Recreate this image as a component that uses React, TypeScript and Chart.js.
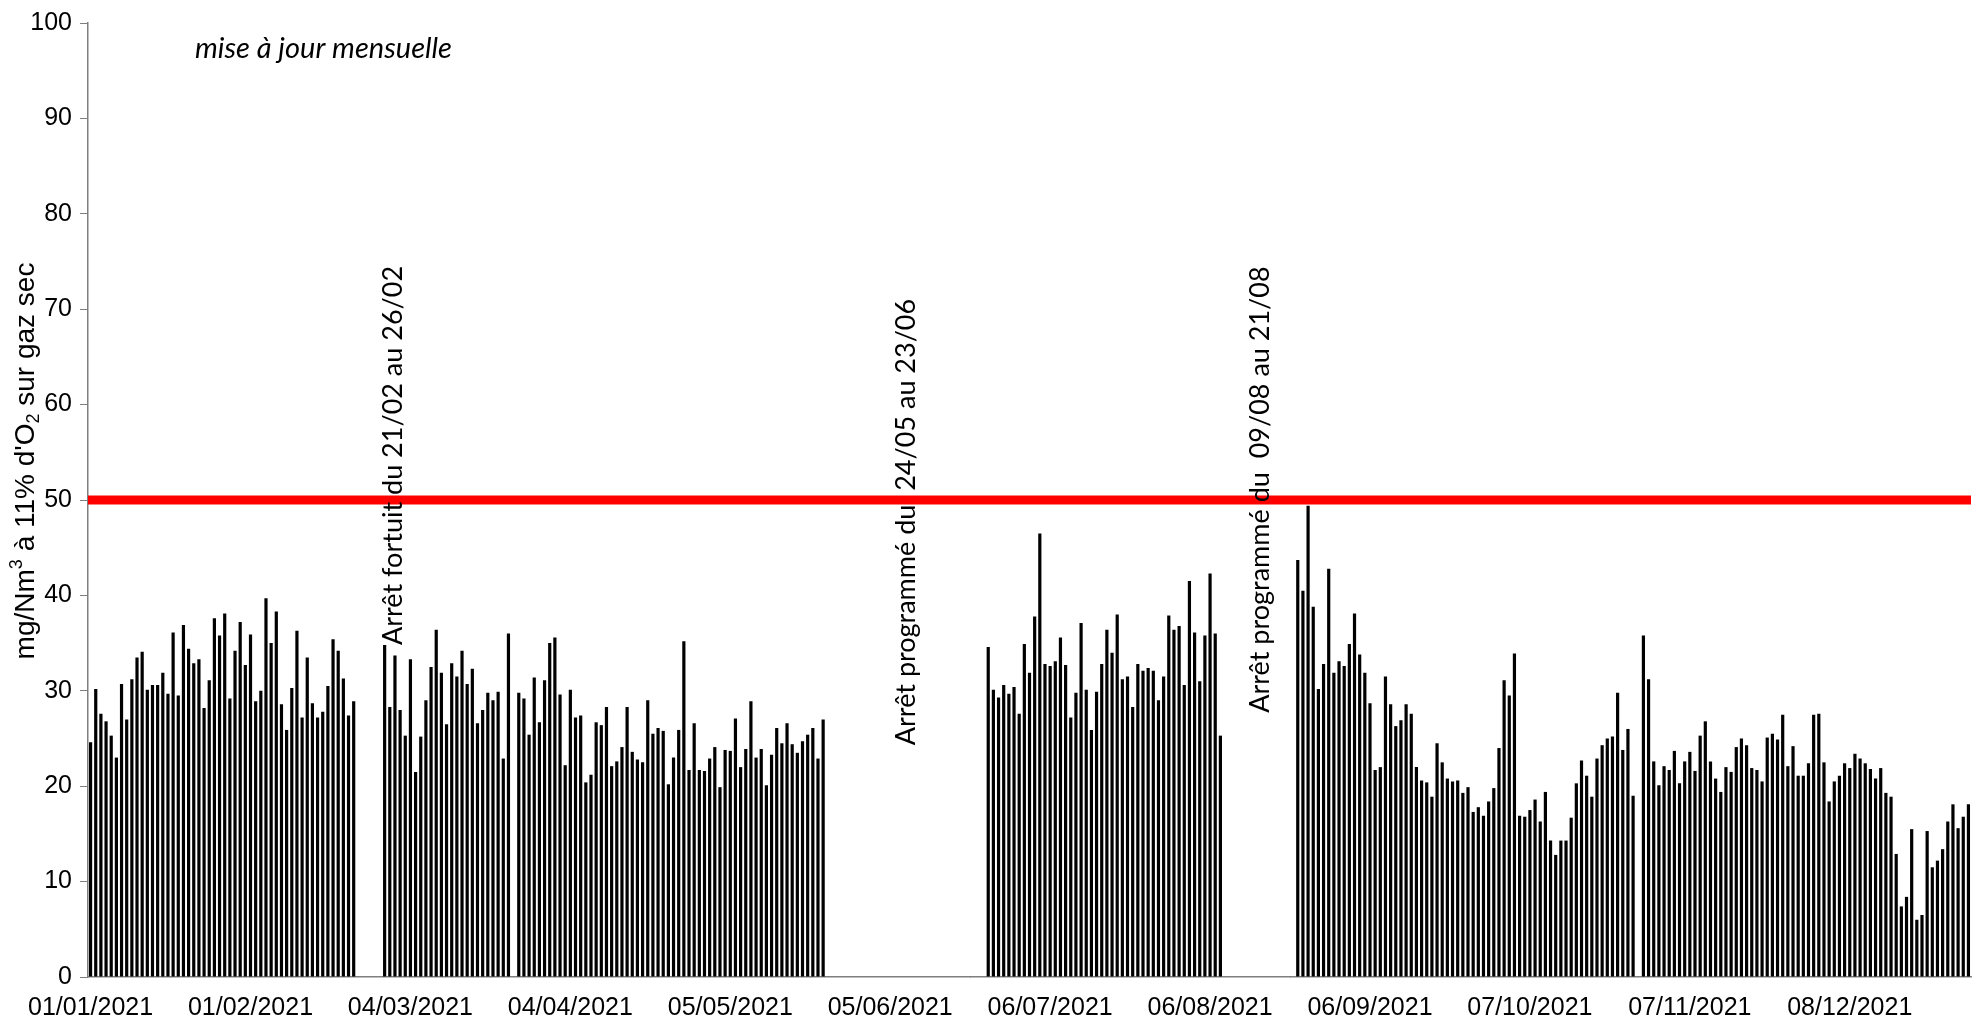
import React, { useEffect, useRef } from "react";
import { Chart, registerables } from "chart.js";

Chart.register(...registerables);

const YEAR = 2021;

// Daily values (mg/Nm³), null = installation stopped
const JAN = [24.6, 30.2, 27.6, 26.8, 25.3, 23.0, 30.7, 27.0, 31.2, 33.5, 34.1, 30.1, 30.6, 30.6, 31.9, 29.7, 36.1, 29.5, 36.9, 34.4, 32.9, 33.3, 28.2, 31.1, 37.6, 35.8, 38.1, 29.2, 34.2, 37.2, 32.7];
const FEB = [35.9, 28.9, 30.0, 39.7, 35.0, 38.3, 28.6, 25.9, 30.3, 36.3, 27.2, 33.5, 28.7, 27.2, 27.8, 30.5, 35.4, 34.2, 31.3, 27.4, 28.9, null, null, null, null, null, 34.8, 28.3];
const MAR = [33.7, 28.0, 25.3, 33.3, 21.5, 25.2, 29.0, 32.5, 36.4, 31.9, 26.5, 32.9, 31.5, 34.2, 30.7, 32.3, 26.6, 28.0, 29.8, 29.0, 29.9, 22.9, 36.0, null, 29.8, 29.2, 25.4, 31.4, 26.7, 31.1, 35.0];
const APR = [35.6, 29.6, 22.2, 30.1, 27.2, 27.4, 20.4, 21.2, 26.7, 26.4, 28.3, 22.1, 22.6, 24.1, 28.3, 23.6, 22.8, 22.5, 29.0, 25.5, 26.1, 25.8, 20.2, 23.0, 25.9, 35.2, 21.7, 26.6, 21.7, 21.6];
const MAY = [22.9, 24.1, 19.9, 23.8, 23.7, 27.1, 22.0, 23.9, 28.9, 23.0, 23.9, 20.1, 23.3, 26.1, 24.5, 26.6, 24.4, 23.5, 24.7, 25.4, 26.1, 22.9, 27.0, null, null, null, null, null, null, null, null];
const JUN = [null, null, null, null, null, null, null, null, null, null, null, null, null, null, null, null, null, null, null, null, null, null, null, 34.6, 30.1, 29.3, 30.6, 29.7, 30.4, 27.6];
const JUL = [34.9, 31.9, 37.8, 46.5, 32.8, 32.6, 33.1, 35.6, 32.7, 27.2, 29.8, 37.1, 30.1, 25.9, 29.9, 32.8, 36.4, 34.0, 38.0, 31.2, 31.5, 28.3, 32.8, 32.1, 32.4, 32.1, 29.0, 31.5, 37.9, 36.4, 36.8];
const AUG = [30.6, 41.5, 36.1, 31.0, 35.8, 42.3, 36.0, 25.3, null, null, null, null, null, null, null, null, null, null, null, null, null, null, 43.7, 40.5, 49.4, 38.8, 30.2, 32.8, 42.8, 31.9, 33.1];
const SEP = [32.6, 34.9, 38.1, 33.8, 31.9, 28.7, 21.7, 22.0, 31.5, 28.6, 26.3, 26.9, 28.6, 27.6, 22.0, 20.6, 20.4, 18.9, 24.5, 22.5, 20.8, 20.5, 20.6, 19.3, 19.9, 17.3, 17.8, 16.9, 18.4, 19.8];
const OCT = [24.0, 31.1, 29.5, 33.9, 16.9, 16.8, 17.5, 18.6, 16.3, 19.4, 14.3, 12.8, 14.3, 14.3, 16.7, 20.3, 22.7, 21.1, 18.9, 22.9, 24.3, 25.0, 25.2, 29.8, 23.8, 26.0, 19.0, null, 35.8, 31.2, 22.6];
const NOV = [20.1, 22.1, 21.7, 23.7, 20.3, 22.6, 23.6, 21.6, 25.3, 26.8, 22.6, 20.8, 19.4, 22.0, 21.5, 24.1, 25.0, 24.3, 21.9, 21.7, 20.5, 25.1, 25.5, 24.9, 27.5, 22.1, 24.2, 21.1, 21.1, 22.4];
const DEC = [27.5, 27.6, 22.5, 18.4, 20.5, 21.1, 22.4, 21.9, 23.4, 22.9, 22.4, 21.8, 20.8, 21.9, 19.3, 18.9, 12.9, 7.4, 8.4, 15.5, 6.0, 6.5, 15.3, 11.5, 12.2, 13.4, 16.3, 18.1, 15.6, 16.8, 18.1];

const VALUES: (number | null)[] = [...JAN, ...FEB, ...MAR, ...APR, ...MAY, ...JUN, ...JUL, ...AUG, ...SEP, ...OCT, ...NOV, ...DEC];

function buildDayLabels(): string[] {
  const out: string[] = [];
  const d = new Date(Date.UTC(YEAR, 0, 1));
  while (d.getUTCFullYear() === YEAR) {
    const dd = String(d.getUTCDate()).padStart(2, "0");
    const mm = String(d.getUTCMonth() + 1).padStart(2, "0");
    out.push(`${dd}/${mm}/${YEAR}`);
    d.setUTCDate(d.getUTCDate() + 1);
  }
  return out;
}
const DAY_LABELS = buildDayLabels();
const TICK_STEP = 31;

const LIMIT = 50;
const LIMIT_COLOR = "#FF0000";

const NOTE = "mise à jour mensuelle";
const ANNOTATIONS = [
  { text: "Arrêt fortuit du 21/02 au 26/02", day: 58.7, value: 34.8 },
  { text: "Arrêt programmé du  24/05 au 23/06", day: 158.1, value: 24.3 },
  { text: "Arrêt programmé du  09/08 au 21/08", day: 226.8, value: 27.7 },
];

const Y_TITLE = [
  { t: "mg/Nm" },
  { t: "3", sup: true },
  { t: " à 11% d'O" },
  { t: "2", sub: true },
  { t: " sur gaz sec" },
];

const AXIS_FONT = "Liberation Sans";
const AXIS_COLOR = "#7f7f7f";

const overlayPlugin = {
  id: "overlay",
  afterDatasetsDraw(chart: any) {
    const { ctx, chartArea, scales } = chart;
    const xs = scales.x;
    const ys = scales.y;
    ctx.save();
    // limit line
    const yl = ys.getPixelForValue(LIMIT);
    ctx.strokeStyle = LIMIT_COLOR;
    ctx.lineWidth = 9;
    ctx.beginPath();
    ctx.moveTo(chartArea.left, yl);
    ctx.lineTo(chartArea.right, yl);
    ctx.stroke();

    // vertical annotations
    ctx.fillStyle = "#000";
    ctx.font = "27px Lato";
    ctx.textAlign = "left";
    ctx.textBaseline = "middle";
    for (const a of ANNOTATIONS) {
      const px = xs.getPixelForValue(a.day);
      const py = ys.getPixelForValue(a.value);
      ctx.save();
      ctx.translate(px, py);
      ctx.rotate(-Math.PI / 2);
      ctx.fillText(a.text, 0, 0);
      ctx.restore();
    }

    // note
    ctx.font = "italic 29px Lato";
    ctx.fillText(NOTE, chartArea.left + 107, chartArea.top + 26);

    // y title
    const big = `28px ${AXIS_FONT}`;
    const small = `18px ${AXIS_FONT}`;
    let total = 0;
    for (const s of Y_TITLE) {
      ctx.font = s.sup || s.sub ? small : big;
      total += ctx.measureText(s.t).width;
    }
    ctx.save();
    ctx.translate(chartArea.left - 62, chartArea.top + 438);
    ctx.rotate(-Math.PI / 2);
    let cx = -total / 2;
    for (const s of Y_TITLE) {
      ctx.font = s.sup || s.sub ? small : big;
      const dy = s.sup ? -9 : s.sub ? 8 : 0;
      ctx.fillText(s.t, cx, dy);
      cx += ctx.measureText(s.t).width;
    }
    ctx.restore();
    ctx.restore();
  },
};

export default function App() {
  const canvasRef = useRef<HTMLCanvasElement | null>(null);

  useEffect(() => {
    if (!canvasRef.current) return;
    const chart = new Chart(canvasRef.current, {
      type: "bar",
      data: {
        labels: DAY_LABELS,
        datasets: [
          {
            data: VALUES,
            backgroundColor: "#000000",
            borderWidth: 0,
            barPercentage: 0.62,
            categoryPercentage: 1.0,
          },
        ],
      },
      options: {
        animation: false,
        responsive: true,
        maintainAspectRatio: false,
        layout: { padding: { top: 19, right: 12, bottom: 0, left: 0 } },
        plugins: {
          legend: { display: false },
          tooltip: { enabled: false },
        },
        scales: {
          x: {
            type: "category",
            grid: { display: true, drawOnChartArea: false, tickLength: 0, color: AXIS_COLOR },
            border: { display: true, color: AXIS_COLOR, width: 1.5 },
            ticks: {
              autoSkip: false,
              maxRotation: 0,
              minRotation: 0,
              padding: 16,
              color: "#000",
              font: { family: AXIS_FONT, size: 25 },
              callback: (_v: any, index: number) => (index % TICK_STEP === 0 ? DAY_LABELS[index] : null),
            },
            afterFit: (scale: any) => {
              scale.height = 48;
            },
          },
          y: {
            min: 0,
            max: 100,
            grid: { display: true, drawOnChartArea: false, tickLength: 8, color: AXIS_COLOR },
            border: { display: true, color: AXIS_COLOR, width: 1.5 },
            ticks: {
              stepSize: 10,
              padding: 8,
              color: "#000",
              font: { family: AXIS_FONT, size: 25 },
            },
            afterFit: (scale: any) => {
              scale.width = 88;
            },
          },
        },
      },
      plugins: [overlayPlugin],
    });
    return () => chart.destroy();
  }, []);

  return (
    <div style={{ position: "fixed", left: 0, top: 0, width: "1983px", height: "1025px", background: "#fff" }}>
      <canvas ref={canvasRef} />
    </div>
  );
}
